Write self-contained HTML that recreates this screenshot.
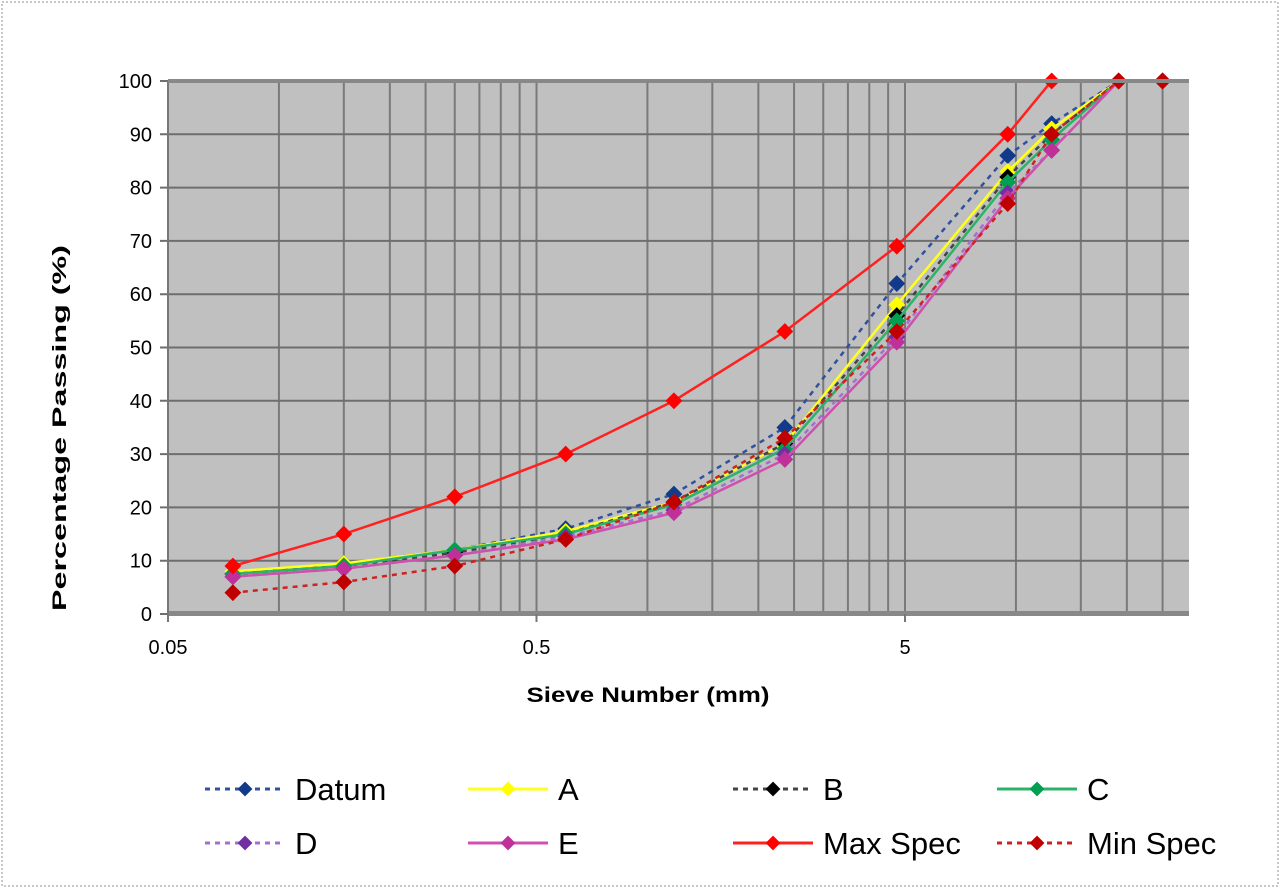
<!DOCTYPE html>
<html><head><meta charset="utf-8"><style>
html,body{margin:0;padding:0;background:#fff;}
svg{display:block;font-family:"Liberation Sans",Arial,sans-serif;}
</style></head><body>
<svg id="chart" width="1280" height="888" viewBox="0 0 1280 888">
<rect x="2" y="2" width="1276" height="884" fill="#fff" stroke="#c8c8c8" stroke-width="2" stroke-dasharray="2,2"/>
<rect x="168" y="81" width="1021" height="533" fill="#c0c0c0"/>
<g id="grid"></g>
<g id="series"></g>
<g id="axes"></g>
<text x="66" y="428" transform="rotate(-90 66 428)" text-anchor="middle" font-size="19" font-weight="bold" textLength="366" lengthAdjust="spacingAndGlyphs">Percentage Passing (%)</text>
<text x="648" y="702" text-anchor="middle" font-size="21" font-weight="bold" textLength="243" lengthAdjust="spacingAndGlyphs">Sieve Number (mm)</text>
<g id="legend"></g>
</svg>
<script>
const sieves=[0.075,0.15,0.3,0.6,1.18,2.36,4.75,9.5,12.5,19,25];
const datum=[7.5,9.5,12,16,22.5,35,62,86,92,100,100];
const seriesA=[8,9.5,12,15.5,21,32,58,83,91,100,100];
const seriesB=[7.5,9,11.5,15,21,32,56,82,90,100,100];
const seriesC=[7.5,9,12,15,20.5,31,55,81,89,100,100];
const seriesD=[7,8.5,11,14.5,19.5,30,52,79,87,100,100];
const seriesE=[7,8.5,11,14,19,29,51,78,87,100,100];
const maxSpec=[9,15,22,30,40,53,69,90,100,100,100];
const minSpec=[4,6,9,14,21,33,53,77,90,100,100];
const yTicks=[0,10,20,30,40,50,60,70,80,90,100];
const xTickLabels=[0.05,0.5,5];
const NS="http://www.w3.org/2000/svg";
const L=168,R=1189,T=81,B=614,XMIN=0.05,DEC=368.5;
function xs(v){return L+Math.log10(v/XMIN)*DEC;}
function ys(v){return B-(v/100)*(B-T);}
function mk(tag,at,parent){const e=document.createElementNS(NS,tag);for(const k in at)e.setAttribute(k,at[k]);parent.appendChild(e);return e;}
const grid=document.getElementById('grid'),axes=document.getElementById('axes');
[0.05,0.5,5].forEach(d=>{for(let k=2;k<=10;k++){const v=d*k;const x=xs(v);if(x>R-1)continue;
 const ln=mk('line',{x1:x,x2:x,y1:T,y2:B,stroke:'#7a7a7a','stroke-width':2},grid);
 
 }});
yTicks.forEach(t=>{const y=ys(t);
 const ln=mk('line',{x1:160,x2:R,y1:y,y2:y,stroke:'#6e6e6e','stroke-width':2},grid);
 
 
 const tx=mk('text',{x:152,y:y+7,'text-anchor':'end','font-size':20},axes);tx.textContent=t;
 
 });
mk('rect',{x:L,y:B-3,width:R-L,height:5,fill:'#888'},axes);
mk('line',{x1:L,x2:L,y1:T,y2:B,stroke:'#777','stroke-width':2},axes);
mk('rect',{x:L,y:T-2,width:R-L,height:4,fill:'#888'},axes);
xTickLabels.forEach(t=>{const x=xs(t);
 mk('line',{x1:x,x2:x,y1:B,y2:B+8,stroke:'#777','stroke-width':2},axes);
 const tx=mk('text',{x:x,y:654,'text-anchor':'middle','font-size':20},axes);tx.textContent=t;
 
 });
const defs=[
 {name:'Datum',data:datum,color:'#3050a0',mc:'#123a8a',dash:'5,5'},
 {name:'A',data:seriesA,color:'#ffff20',mc:'#ffff00',dash:''},
 {name:'B',data:seriesB,color:'#444',mc:'#000',dash:'5,5'},
 {name:'C',data:seriesC,color:'#2cb36a',mc:'#00a050',dash:''},
 {name:'D',data:seriesD,color:'#a070d0',mc:'#7030a0',dash:'5,5'},
 {name:'E',data:seriesE,color:'#d050b0',mc:'#c0309a',dash:''},
 {name:'Max Spec',data:maxSpec,color:'#ff2020',mc:'#ff0000',dash:''},
 {name:'Min Spec',data:minSpec,color:'#d02020',mc:'#c00000',dash:'5,5'}];
const sg=document.getElementById('series');
function marker(g,x,y,c,s){mk('path',{d:`M${x},${y-s}L${x+s},${y}L${x},${y+s}L${x-s},${y}Z`,fill:c,stroke:c,'stroke-width':2},g);}
defs.forEach(d=>{const g=mk('g',{},sg);
 
 
 const pts=d.data.map((v,i)=>xs(sieves[i])+','+ys(v)).join(' ');
 mk('polyline',{points:pts,fill:'none',stroke:d.color,'stroke-width':2.5,'stroke-dasharray':d.dash},g);
 d.data.forEach((v,i)=>marker(g,xs(sieves[i]),ys(v),d.mc,7));});
const lg=document.getElementById('legend');
const colX=[205,468,733,997],rowY=[789,843];
defs.forEach((d,i)=>{const x=colX[i%4],y=rowY[Math.floor(i/4)];
 const g=mk('g',{},lg);
 
 
 mk('line',{x1:x,x2:x+80,y1:y,y2:y,stroke:d.color,'stroke-width':3,'stroke-dasharray':d.dash},g);
 marker(g,x+40,y,d.mc,6);
 const t=mk('text',{x:x+90,y:y+11,'font-size':31},g);t.textContent=d.name;});
</script>
</body></html>
